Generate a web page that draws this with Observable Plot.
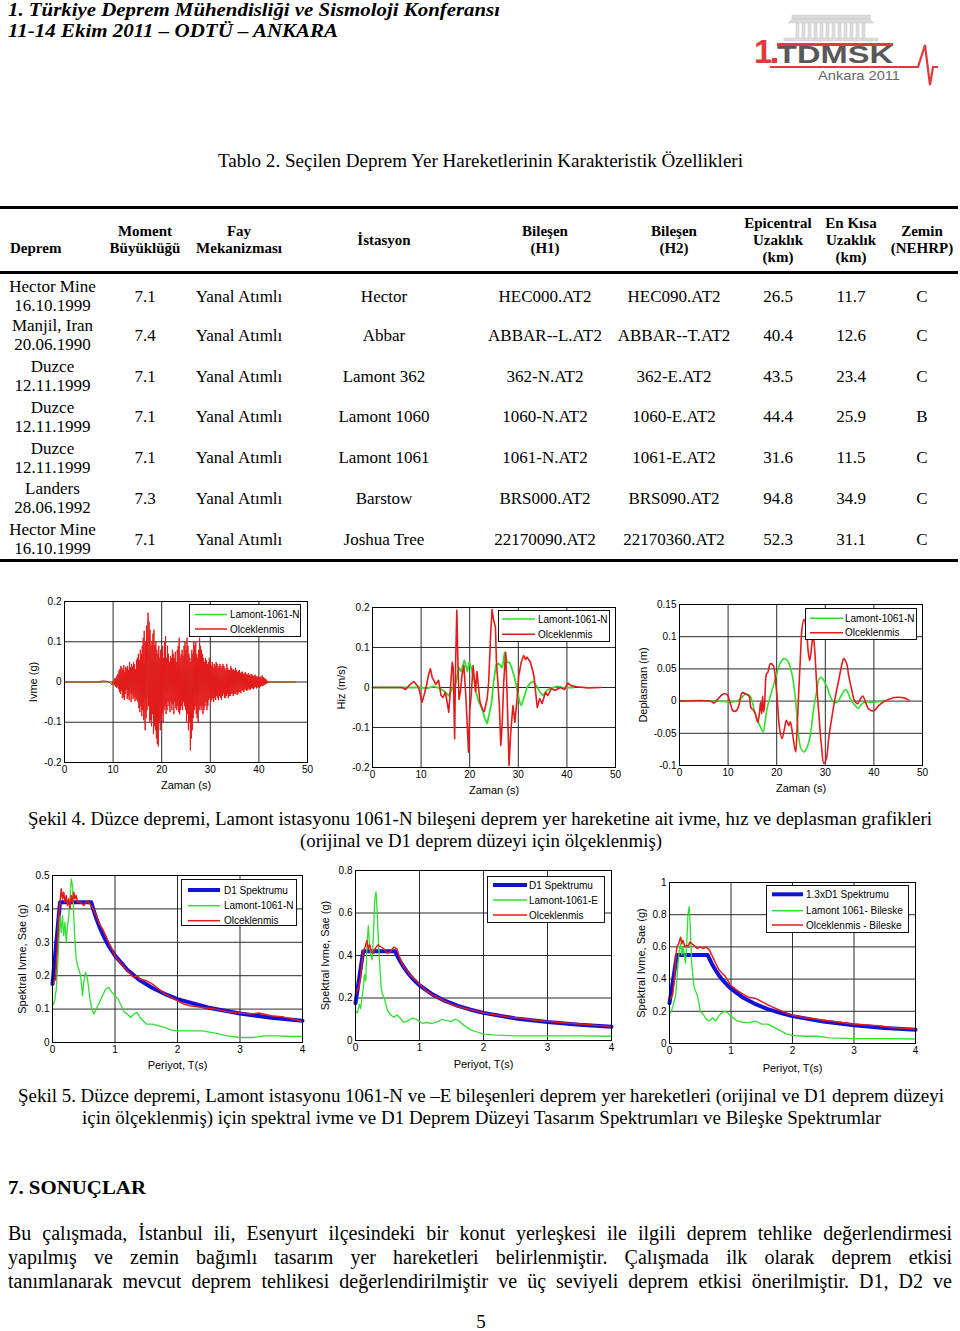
<!DOCTYPE html>
<html><head><meta charset="utf-8">
<script src="https://cdn.jsdelivr.net/npm/d3@7"></script>
<script src="https://cdn.jsdelivr.net/npm/@observablehq/plot@0.6"></script>
<style>
html,body{margin:0;padding:0;background:#fff;}
#page{position:relative;width:960px;height:1331px;overflow:hidden;background:#fff;}
.rule{position:absolute;background:#000;}
</style></head>
<body><div id="page"></div>
<script>
// ---------------- DATA ----------------
const headerLines = ["1. Türkiye Deprem Mühendisliği ve Sismoloji Konferansı", "11-14 Ekim 2011 – ODTÜ – ANKARA"];
const tableTitle = "Tablo 2. Seçilen Deprem Yer Hareketlerinin Karakteristik Özellikleri";
const tableHeads = [["Moment","Büyüklüğü"],["Fay","Mekanizması"],["İstasyon"],["Bileşen","(H1)"],["Bileşen","(H2)"],["Epicentral","Uzaklık","(km)"],["En Kısa","Uzaklık","(km)"],["Zemin","(NEHRP)"]];
const depremNames = ["Hector Mine","Manjil, Iran","Duzce","Duzce","Duzce","Landers","Hector Mine"];
const depremDates = ["16.10.1999","20.06.1990","12.11.1999","12.11.1999","12.11.1999","28.06.1992","16.10.1999"];
const magnitudes = ["7.1","7.4","7.1","7.1","7.1","7.3","7.1"];
const faults = ["Yanal Atımlı","Yanal Atımlı","Yanal Atımlı","Yanal Atımlı","Yanal Atımlı","Yanal Atımlı","Yanal Atımlı"];
const stations = ["Hector","Abbar","Lamont 362","Lamont 1060","Lamont 1061","Barstow","Joshua Tree"];
const compH1 = ["HEC000.AT2","ABBAR--L.AT2","362-N.AT2","1060-N.AT2","1061-N.AT2","BRS000.AT2","22170090.AT2"];
const compH2 = ["HEC090.AT2","ABBAR--T.AT2","362-E.AT2","1060-E.AT2","1061-E.AT2","BRS090.AT2","22170360.AT2"];
const epiDist = ["26.5","40.4","43.5","44.4","31.6","94.8","52.3"];
const minDist = ["11.7","12.6","23.4","25.9","11.5","34.9","31.1"];
const soilClass = ["C","C","C","B","C","C","C"];

const caption4 = ["Şekil 4. Düzce depremi, Lamont istasyonu 1061-N bileşeni deprem yer hareketine ait ivme, hız ve deplasman grafikleri","(orijinal ve D1 deprem düzeyi için ölçeklenmiş)"];
const caption5 = ["Şekil 5. Düzce depremi, Lamont istasyonu 1061-N ve –E bileşenleri deprem yer hareketleri (orijinal ve D1 deprem düzeyi","için ölçeklenmiş) için spektral ivme ve D1 Deprem Düzeyi Tasarım Spektrumları ve Bileşke Spektrumlar"];
const sectionTitle = "7. SONUÇLAR";
const paragraph = ["Bu çalışmada, İstanbul ili, Esenyurt ilçesindeki bir konut yerleşkesi ile ilgili deprem tehlike değerlendirmesi","yapılmış ve zemin bağımlı tasarım yer hareketleri belirlenmiştir. Çalışmada ilk olarak deprem etkisi","tanımlanarak mevcut deprem tehlikesi değerlendirilmiştir ve üç seviyeli deprem etkisi önerilmiştir. D1, D2 ve"];
const pageNumber = "5";

// time ticks / spectrum ticks
const timeTicks = [0,10,20,30,40,50];
const periodTicks = [0,1,2,3,4];
const accTicks = [-0.2,-0.1,0,0.1,0.2];
const velTicks = [-0.2,-0.1,0,0.1,0.2];
const dispTicks = [-0.1,-0.05,0,0.05,0.1,0.15];
const sp1Ticks = [0,0.1,0.2,0.3,0.4,0.5];
const sp2Ticks = [0,0.2,0.4,0.6,0.8];
const sp3Ticks = [0,0.2,0.4,0.6,0.8,1];

// Acceleration (g): red = scaled, sampled every 0.1 s from 10.0 s
const accStart = 10, accRedStep = 0.1, accGreenStep = 0.2;
const accRedLead = [[0,0],[7,0],[7.5,.002],[8,.003],[8.5,.002],[9,.001],[9.5,-.003],[9.8,-.008],[9.9,-.002]];
const accRedMain = [
.002,-.004,.006,-.008,.01,-.012,.009,-.014,.016,-.01,
.02,-.018,.028,-.025,.032,-.03,.04,-.022,.035,-.04,
.03,-.038,.042,-.045,.025,-.03,.038,-.02,.034,-.042,
.04,-.035,.03,-.045,.05,-.028,.036,-.05,.045,-.03,
.038,-.042,.05,-.036,.044,-.048,.032,-.04,.055,-.045,
.06,-.05,.07,-.065,.055,-.075,.08,-.06,.07,-.085,
.09,-.07,.11,-.095,.127,-.08,-.12,.1,-.09,.14,
-.07,.12,.172,-.06,.15,-.1,.13,-.095,.09,-.11,
.1,-.08,.12,-.13,.13,-.11,.09,-.12,.1,-.14,
.08,-.154,.07,-.16,.09,-.1,.06,-.12,.08,-.09,
.07,-.08,.09,-.1,.06,-.07,.1,-.06,.114,-.08,
.06,-.07,.09,-.05,.07,-.06,.05,-.075,.065,-.05,
.06,-.07,.08,-.055,.07,-.08,.06,-.05,.075,-.065,
.05,-.07,.08,-.06,.09,-.075,.11,-.08,.06,-.07,
.07,-.06,.08,-.07,.065,-.05,.09,-.06,.1,-.07,
.08,-.1,.11,-.08,.09,-.12,.07,-.1,.06,-.17,
.05,-.14,.08,-.12,.07,-.09,.1,-.07,.09,-.06,
.1,-.08,.07,-.09,.06,-.1,.08,-.07,.11,-.06,
.09,-.07,.08,-.06,.07,-.08,.06,-.07,.05,-.06,
.06,-.05,.055,-.07,.045,-.06,.05,-.045,.06,-.04,
.045,-.05,.04,-.045,.05,-.04,.035,-.05,.045,-.04,
.04,-.045,.05,-.035,.045,-.04,.035,-.045,.04,-.035,
.045,-.04,.035,-.045,.04,-.035,.045,-.03,.04,-.04,
.035,-.04,.03,-.035,.045,-.03,.035,-.04,.03,-.035,
.03,-.035,.04,-.03,.035,-.028,.03,-.035,.032,-.03,
.028,-.03,.035,-.025,.03,-.032,.025,-.03,.028,-.025,
.03,-.025,.022,-.028,.025,-.02,.026,-.022,.02,-.025,
.022,-.02,.025,-.018,.02,-.022,.018,-.02,.022,-.016,
.018,-.02,.015,-.018,.02,-.015,.018,-.016,.014,-.018,
.016,-.014,.018,-.012,.015,-.016,.012,-.014,.015,-.012,
.012,-.014,.01,-.012,.014,-.01,.012,.016,-.01,.012,
-.008,.01,-.007,.008,-.005,.006,-.004,.003,-.002,.001];
const accRedTail = [[42,0],[47.5,0]];
// green = original record, sampled every 0.2 s from 10.0 s
const accGreenLead = [[0,0],[8,.001],[9,0],[9.8,-.003]];
const accGreenMain = [
.004,-.006,.008,-.01,.012, -.015,.018,-.016,.02,-.018,
.02,-.022,.018,-.02,.022, -.02,.024,-.022,.02,-.025,
.022,-.024,.026,-.02,.025, -.028,.03,-.032,.035,-.03,
.04,-.045,.05,-.04,.045, -.04,.05,.07,.065,-.03,
.06,-.05,.055,-.06,.05, -.065,.04,-.05,.045,-.04,
.04,-.035,.04,-.03,.035, .025,-.03,.03,-.025,.03,
-.03,.03,-.025,.03,-.028, .03,-.03,.04,-.035,.03,
-.03,.035,-.03,.04,-.035, .04,-.045,.035,-.05,.04,
-.05,.035,-.04,-.03,.04, -.035,.04,-.035,.035,-.03,
.035,-.03,.03,-.025,.025, -.025,.022,-.025,.02,-.022,
.02,-.018,.02,-.017,.018, -.018,.017,-.016,.018,-.015,
.016,-.017,.015,-.016,.015, -.014,.015,-.013,.014,-.012,
.013,-.012,.012,-.011,.012, -.011,.01,-.011,.01,-.01,
.01,-.009,.01,-.008,.009, -.008,.008,-.007,.008,-.007,
.007,-.006,.007,-.006,.006, -.006,.005,-.006,.005,-.005,
.005,-.004,.005,-.004,.004, -.003,.003,-.002,.002,-.001];
const accGreenTail = [[42,0],[47.5,0]];

// Velocity (m/s) [t, v]
const velRed = [[0,0],[6.1,0],[6.8,-.005],[7.6,.006],[8.5,.015],[9.5,0],[10.2,-.037],[10.7,-.015],[11.1,.005],[11.5,.03],[11.9,.047],[12.3,.025],[12.6,.018],[13.0,.008],[13.3,.013],[13.6,.018],[14.1,-.02],[14.5,-.025],[15.0,-.012],[15.4,-.04],[15.7,-.062],[16.0,-.01],[16.4,.063],[16.6,.05],[16.9,-.128],[17.1,.06],[17.35,.193],[17.6,.05],[17.8,-.03],[18.1,-.01],[18.4,.03],[18.8,.055],[19.2,-.02],[19.5,-.095],[19.75,-.162],[20.0,-.06],[20.3,-.02],[20.7,.055],[21.2,-.01],[21.5,.04],[22.1,-.035],[22.6,-.055],[23.0,-.06],[23.6,-.028],[23.9,.013],[24.3,.13],[24.6,.195],[24.9,.17],[25.3,.15],[25.5,.063],[25.8,.013],[26.1,-.045],[26.4,-.145],[26.7,-.087],[27.0,.013],[27.4,.088],[27.7,-.02],[28.1,-.195],[28.4,-.12],[28.9,-.045],[29.3,-.087],[29.8,-.02],[30.1,.03],[30.6,.063],[31.1,.08],[31.5,.07],[31.8,.076],[32.5,.063],[33.2,.03],[33.5,-.003],[33.9,-.05],[34.4,-.028],[34.9,-.04],[35.6,-.012],[36.1,-.02],[36.8,-.003],[37.6,-.007],[38.7,0],[39.5,-.005],[40.2,.011],[41.0,.004],[42.1,.002],[44.2,-.001],[47.0,0]];
const velGreen = [[0,0],[9.9,0],[11.2,-.002],[12.6,.003],[14.0,-.003],[15.0,-.012],[15.7,-.02],[16.4,-.003],[17.1,.009],[17.8,.05],[18.2,.04],[18.9,.068],[19.5,.04],[19.9,.063],[20.3,.05],[20.9,.02],[21.3,-.012],[21.9,-.037],[22.6,-.053],[23.1,-.078],[23.6,-.09],[24.1,-.062],[24.5,-.037],[24.9,.013],[25.4,.055],[25.9,.06],[26.7,.05],[27.2,.088],[27.7,.063],[28.2,.063],[28.7,.047],[29.3,.022],[29.8,-.008],[30.3,-.037],[30.6,-.045],[31.3,-.02],[31.8,0],[32.5,.012],[33.1,.015],[33.7,.005],[34.5,-.012],[35.1,-.02],[35.8,-.008],[36.6,-.002],[38.0,.003],[39.4,-.001],[40.7,0],[41.4,0]];

// Displacement (m) [t, d]
const dispRed = [[0,0],[6.4,0],[7.1,-.003],[7.9,.003],[9.0,.011],[9.8,.01],[10.4,-.002],[11.0,-.015],[11.7,-.015],[12.2,-.007],[12.9,.013],[13.6,.011],[14.3,.008],[14.7,-.01],[15.3,-.015],[15.6,-.02],[16.1,-.033],[16.5,-.015],[16.7,-.002],[16.9,-.02],[17.1,.008],[17.3,-.017],[17.5,-.007],[17.9,.042],[18.2,.045],[18.7,.058],[19.3,.055],[19.8,.029],[20.2,-.007],[20.6,-.043],[21.1,-.058],[21.6,-.043],[22.0,-.03],[22.5,-.038],[22.8,-.032],[23.3,-.053],[23.9,-.079],[24.2,-.043],[24.5,.008],[24.9,.071],[25.2,.112],[25.6,.127],[26.1,.112],[26.5,.076],[26.8,.063],[27.2,.086],[27.5,.102],[27.8,.081],[28.2,.029],[28.7,-.023],[29.2,-.069],[29.7,-.097],[30.2,-.09],[30.7,-.058],[31.4,-.023],[32.1,.008],[32.8,.034],[33.5,.06],[33.8,.066],[34.4,.058],[34.8,.04],[35.4,.019],[36.0,.001],[36.6,-.004],[37.2,.003],[37.7,.008],[38.3,-.002],[38.9,-.012],[40.0,-.015],[41.0,-.007],[42.0,-.001],[43.1,.003],[44.8,.006],[46.2,.005],[47.2,.001]];
const dispGreen = [[0,0],[8.4,0],[9.8,-.001],[11.2,-.001],[12.5,.003],[13.6,.011],[14.5,.008],[15.0,-.002],[15.4,-.015],[16.0,-.028],[16.7,-.041],[17.2,-.048],[17.6,-.033],[18.0,-.012],[18.7,.008],[19.4,.026],[20.1,.045],[20.8,.06],[21.5,.066],[22.2,.063],[22.7,.055],[23.2,.04],[23.7,.014],[24.1,-.017],[24.5,-.053],[25.0,-.074],[25.6,-.079],[26.1,-.074],[26.6,-.064],[27.1,-.043],[27.6,-.012],[28.2,.014],[28.7,.034],[29.2,.037],[29.7,.032],[30.4,.021],[31.1,.006],[31.8,-.002],[32.4,-.002],[33.1,.006],[33.7,.014],[34.2,.018],[34.6,.014],[35.2,.003],[35.9,-.005],[36.8,-.011],[37.4,-.005],[38.3,-.001],[39.3,-.002],[40.7,-.001],[42.0,0]];

// Spectra [T (s), Sae (g)]
const d1Spectrum = [[0,.175],[.12,.42],[.62,.42],[.65,.40],[.7,.372],[.75,.347],[.8,.326],[.85,.306],[.9,.289],[.95,.274],[1,.26],[1.2,.217],[1.4,.186],[1.6,.163],[1.8,.145],[2,.13],[2.5,.104],[3,.087],[3.5,.074],[4,.065]];
const n1061Spectrum = [[0,.11],[.03,.12],[.06,.16],[.08,.22],[.1,.3],[.12,.38],[.14,.33],[.16,.38],[.18,.32],[.2,.36],[.22,.30],[.24,.35],[.26,.38],[.28,.43],[.3,.49],[.32,.47],[.34,.38],[.36,.3],[.38,.25],[.4,.23],[.42,.22],[.45,.2],[.48,.14],[.5,.18],[.53,.21],[.56,.19],[.6,.13],[.63,.1],[.66,.085],[.7,.1],[.75,.12],[.8,.14],[.85,.16],[.9,.165],[.95,.15],[1,.14],[1.05,.13],[1.1,.11],[1.15,.09],[1.2,.085],[1.25,.075],[1.3,.085],[1.35,.09],[1.4,.075],[1.5,.055],[1.6,.055],[1.7,.05],[1.8,.045],[1.9,.037],[2,.035],[2.2,.035],[2.4,.035],[2.6,.028],[2.8,.02],[3,.015],[3.2,.015],[3.4,.02],[3.6,.02],[3.8,.018],[4,.018]];
const n1061Scaled = [[0,.175],[.05,.19],[.08,.3],[.1,.38],[.12,.42],[.14,.46],[.16,.43],[.18,.45],[.2,.42],[.22,.44],[.24,.41],[.26,.43],[.28,.40],[.3,.44],[.32,.42],[.34,.45],[.36,.43],[.38,.44],[.4,.42],[.45,.42],[.5,.41],[.55,.425],[.6,.415],[.65,.40],[.7,.38],[.75,.355],[.8,.34],[.85,.32],[.9,.30],[.95,.28],[1,.26],[1.1,.235],[1.2,.215],[1.3,.195],[1.35,.2],[1.4,.19],[1.5,.185],[1.6,.175],[1.7,.16],[1.8,.145],[1.9,.135],[2,.125],[2.1,.115],[2.2,.11],[2.4,.105],[2.6,.1],[2.8,.092],[3,.088],[3.2,.085],[3.3,.088],[3.5,.08],[3.7,.076],[3.9,.068],[4,.062]];
const e1061Spectrum = [[0,.14],[.03,.13],[.06,.17],[.08,.15],[.1,.2],[.12,.24],[.14,.31],[.16,.28],[.18,.45],[.2,.54],[.22,.45],[.24,.4],[.26,.38],[.28,.5],[.3,.66],[.32,.7],[.34,.6],[.36,.45],[.38,.35],[.4,.25],[.42,.22],[.45,.2],[.5,.14],[.55,.12],[.6,.11],[.65,.12],[.7,.105],[.75,.085],[.8,.09],[.85,.1],[.9,.105],[.95,.1],[1,.09],[1.05,.08],[1.1,.085],[1.2,.08],[1.3,.09],[1.35,.1],[1.4,.095],[1.5,.09],[1.55,.1],[1.6,.095],[1.7,.07],[1.8,.05],[1.9,.04],[2,.03],[2.2,.025],[2.5,.022],[3,.022],[3.5,.022],[4,.02]];
const e1061Scaled = [[0,.22],[.05,.25],[.08,.3],[.1,.36],[.12,.42],[.15,.44],[.18,.47],[.2,.43],[.22,.45],[.25,.42],[.28,.41],[.3,.43],[.35,.45],[.4,.44],[.45,.43],[.5,.41],[.55,.42],[.6,.44],[.65,.43],[.7,.38],[.75,.35],[.8,.33],[.85,.31],[.9,.295],[.95,.28],[1,.265],[1.1,.235],[1.2,.215],[1.3,.2],[1.4,.185],[1.5,.17],[1.6,.16],[1.8,.145],[2,.13],[2.2,.12],[2.4,.11],[2.6,.105],[2.8,.095],[3,.09],[3.2,.085],[3.4,.08],[3.6,.075],[3.8,.07],[4,.065]];
const d1x13Spectrum = [[0,.25],[.12,.55],[.62,.55],[.65,.525],[.7,.487],[.75,.455],[.8,.426],[.85,.401],[.9,.379],[.95,.359],[1,.341],[1.2,.284],[1.4,.244],[1.6,.213],[1.8,.19],[2,.17],[2.5,.136],[3,.114],[3.5,.097],[4,.085]];
const srssSpectrum = [[0,.18],[.03,.2],[.06,.24],[.1,.3],[.12,.4],[.14,.5],[.16,.58],[.18,.62],[.2,.55],[.22,.6],[.24,.55],[.26,.5],[.28,.62],[.3,.8],[.32,.85],[.34,.7],[.36,.5],[.38,.42],[.4,.35],[.42,.33],[.45,.3],[.48,.25],[.5,.2],[.55,.18],[.6,.15],[.65,.14],[.7,.16],[.75,.14],[.8,.17],[.85,.19],[.9,.2],[.95,.19],[1,.17],[1.1,.14],[1.2,.13],[1.3,.13],[1.4,.14],[1.5,.12],[1.6,.12],[1.7,.1],[1.8,.08],[1.9,.06],[2,.05],[2.2,.045],[2.4,.045],[2.6,.035],[3,.03],[3.5,.03],[4,.028]];
const srssScaled = [[0,.27],[.05,.3],[.08,.4],[.1,.52],[.12,.6],[.15,.62],[.18,.66],[.2,.62],[.22,.64],[.25,.6],[.28,.61],[.3,.6],[.33,.63],[.36,.62],[.4,.61],[.45,.59],[.5,.6],[.55,.59],[.6,.6],[.65,.58],[.7,.54],[.75,.5],[.8,.46],[.85,.44],[.9,.42],[.95,.39],[1,.36],[1.1,.33],[1.2,.305],[1.3,.285],[1.4,.28],[1.5,.26],[1.6,.24],[1.8,.205],[2,.175],[2.2,.16],[2.4,.15],[2.6,.14],[2.8,.13],[3,.12],[3.2,.115],[3.4,.11],[3.6,.1],[3.8,.095],[4,.09]];

const legend4 = ["Lamont-1061-N","Olceklenmis"];
const legendN = ["D1 Spektrumu","Lamont-1061-N","Olceklenmis"];
const legendE = ["D1 Spektrumu","Lamont-1061-E","Olceklenmis"];
const legendB = ["1.3xD1 Spektrumu","Lamont 1061- Bileske","Olceklenmis - Bileske"];

// ---------------- RENDER ----------------
const SERIF = '"Liberation Serif","Times New Roman",serif';
const SANS = '"Liberation Sans",Arial,sans-serif';
const RED = "#e41b1b", GREEN = "#2fe02f", BLUE = "#1212d6";
const page = document.getElementById("page");

function put(s, o) {
  const el = document.createElement("div");
  el.textContent = s;
  const font = o.font || SERIF;
  Object.assign(el.style, {position:"absolute", whiteSpace:"pre", lineHeight:"1", fontFamily:font,
    fontSize:o.size+"px", fontWeight:o.bold?"bold":"normal", fontStyle:o.italic?"italic":"normal",
    color:o.color||"#000", left:"0px", top:"0px"});
  page.appendChild(el);
  let w = el.getBoundingClientRect().width;
  if (o.justify) {
    const n = (s.match(/ /g) || []).length;
    el.style.wordSpacing = ((o.w - w) / n) + "px";
    w = o.w;
  } else if (o.w) {
    el.style.transformOrigin = "0 0";
    el.style.transform = `scaleX(${o.w / w})`;
    w = o.w;
  }
  const asc = font === SANS ? 0.847 : 0.8375;
  const left = o.anchor === "middle" ? o.x - w / 2 : o.anchor === "end" ? o.x - w : o.x;
  el.style.left = left + "px";
  el.style.top = (o.y - asc * o.size) + "px";
}
function rule(x, y, w, h) {
  const d = document.createElement("div");
  d.className = "rule";
  Object.assign(d.style, {left:x+"px", top:y+"px", width:w+"px", height:h+"px"});
  page.appendChild(d);
}

// header
put(headerLines[0], {x:8, y:16, size:18, bold:true, italic:true, w:492});
put(headerLines[1], {x:8, y:37, size:18, bold:true, italic:true, w:330});

// logo
const logo = document.createElement("div");
logo.style.cssText = "position:absolute;left:740px;top:5px;width:210px;height:90px;";
logo.innerHTML = `<svg width="210" height="90" font-family='${SANS}'>
<g fill="#dcdcdc" stroke="#cfcfcf" stroke-width="0.6">
<rect x="52" y="10" width="78" height="4"/>
<polygon points="48,18 134,18 130,14 52,14"/>
${[56,62,68,74,80,86,92,98,104,110,116,122].map(x=>`<rect x="${x}" y="18" width="3" height="16"/>`).join("")}
<rect x="44" y="33" width="94" height="3"/>
</g>
<text x="14" y="58" font-size="33" font-weight="bold" fill="#e03a3a">1</text>
<rect x="32" y="53" width="5" height="5" fill="#e03a3a"/>
<rect x="37" y="38" width="116" height="3" fill="#e03a3a"/>
<text x="37" y="58" font-size="24" font-weight="bold" fill="#585858" textLength="116" lengthAdjust="spacingAndGlyphs">TDMSK</text>
<polyline points="30,62 178,62 185,40 190,80 193,62 198,62" fill="none" stroke="#e03a3a" stroke-width="2.2"/>
<text x="78" y="75" font-size="13" fill="#666" textLength="82" lengthAdjust="spacingAndGlyphs">Ankara 2011</text>
</svg>`;
page.appendChild(logo);

// table
put(tableTitle, {x:480.5, y:167, size:18, anchor:"middle", w:525});
rule(0, 206, 958, 3);
rule(0, 271, 958, 3);
rule(0, 559, 958, 3);
put("Deprem", {x:10, y:254, size:15, bold:true});
const colX = [145, 239, 384, 545, 674, 778, 851, 922];
tableHeads.forEach((lines, i) => {
  const base = lines.length === 1 ? [246] : lines.length === 2 ? [237, 254] : [229, 246, 263];
  lines.forEach((l, j) => put(l, {x:colX[i], y:base[j], size:15, bold:true, anchor:"middle"}));
});
const rowC = [296, 335, 376, 416.5, 457.5, 498, 539];
const cols = [magnitudes, faults, stations, compH1, compH2, epiDist, minDist, soilClass];
rowC.forEach((c, r) => {
  put(depremNames[r], {x:52.5, y:c - 3.5, size:17, anchor:"middle"});
  put(depremDates[r], {x:52.5, y:c + 15.5, size:17, anchor:"middle"});
  cols.forEach((arr, i) => put(arr[r], {x:colX[i], y:c + 6, size:17, anchor:"middle"}));
});

// charts
function chart(cfg) {
  const fmt = d => String(d);
  const svg = Plot.plot({
    width: cfg.W, height: cfg.H,
    marginLeft: cfg.ml, marginTop: cfg.mt, marginRight: cfg.mr, marginBottom: cfg.mb,
    x: {domain: cfg.xd, ticks: cfg.xt, tickFormat: fmt, tickSize: 0, tickPadding: 3, label: null},
    y: {domain: cfg.yd, ticks: cfg.yt, tickFormat: fmt, tickSize: 0, tickPadding: 3, label: null},
    style: {fontFamily: SANS, fontSize: "10px", background: "transparent", color: "#000", overflow: "visible"},
    marks: [
      Plot.ruleX(cfg.xt, {stroke: "#2a2a2a", strokeWidth: 1}),
      Plot.ruleY(cfg.yt, {stroke: "#2a2a2a", strokeWidth: 1}),
      ...cfg.series.map(s => Plot.line(s.data, {x: d => d[0], y: d => d[1], stroke: s.color, strokeWidth: s.width, strokeLinejoin: "round", curve: s.curve || "linear"})),
      Plot.frame({stroke: "#000", strokeWidth: 1}),
      Plot.text([cfg.xlabel], {frameAnchor: "bottom", dy: cfg.xdy, text: d => d, fontSize: 11, textAnchor: "middle", lineAnchor: "middle"}),
      Plot.text([cfg.ylabel], {frameAnchor: "left", dx: cfg.ydx, rotate: -90, text: d => d, fontSize: 11, textAnchor: "middle", lineAnchor: "middle"})
    ]
  });
  svg.style.position = "absolute";
  svg.style.left = cfg.left + "px";
  svg.style.top = cfg.top + "px";
  page.appendChild(svg);
}
function legend(o) {
  const svg = d3.create("svg").attr("width", o.w + 2).attr("height", o.h + 2)
    .style("position", "absolute").style("left", (o.x - 1) + "px").style("top", (o.y - 1) + "px")
    .attr("font-family", SANS).attr("font-size", 10);
  svg.append("rect").attr("x", 1.5).attr("y", 1.5).attr("width", o.w - 1).attr("height", o.h - 1)
    .attr("fill", "#fff").attr("stroke", "#111").attr("stroke-width", 1);
  o.labels.forEach((lab, i) => {
    const cy = o.rows[i] + 1;
    svg.append("line").attr("x1", o.s1 + 1).attr("x2", o.s2 + 1).attr("y1", cy).attr("y2", cy)
      .attr("stroke", o.colors[i]).attr("stroke-width", o.widths[i]);
    svg.append("text").attr("x", o.tx + 1).attr("y", cy).attr("dy", "0.35em").text(lab);
  });
  page.appendChild(svg.node());
}

const accRed = [...accRedLead, ...accRedMain.map((v, i) => [accStart + i * accRedStep, v]), ...accRedTail];
const accGreen = [...accGreenLead, ...accGreenMain.map((v, i) => [accStart + i * accGreenStep, v]), ...accGreenTail];

chart({left:0, top:590, W:330, H:210, ml:64, mt:11, mr:23, mb:38, xd:[0,50], xt:timeTicks, yd:[-0.2,0.2], yt:accTicks,
  xlabel:"Zaman (s)", xdy:23, ylabel:"Ivme (g)", ydx:-31,
  series:[{data:accGreen, color:GREEN, width:1}, {data:accRed, color:RED, width:1}]});
legend({x:189, y:604, w:112, h:33, rows:[10.5, 25], s1:6, s2:38, tx:41, labels:legend4, colors:[GREEN, RED], widths:[1.5, 1.5]});

chart({left:320, top:595, W:320, H:210, ml:52, mt:12, mr:25, mb:38, xd:[0,50], xt:timeTicks, yd:[-0.2,0.2], yt:velTicks,
  xlabel:"Zaman (s)", xdy:23, ylabel:"Hiz (m/s)", ydx:-31,
  series:[{data:velGreen, color:GREEN, width:1.8}, {data:velRed, color:RED, width:1.6}]});
legend({x:498, y:610, w:112, h:32, rows:[9, 24.3], s1:4, s2:37, tx:40, labels:legend4, colors:[GREEN, RED], widths:[1.5, 1.5]});

chart({left:630, top:595, W:330, H:210, ml:49, mt:9, mr:38, mb:40, xd:[0,50], xt:timeTicks, yd:[-0.1,0.15], yt:dispTicks,
  xlabel:"Zaman (s)", xdy:23, ylabel:"Deplasman (m)", ydx:-36,
  series:[{data:dispGreen, color:GREEN, width:1.6, curve:"catmull-rom"}, {data:dispRed, color:RED, width:1.6, curve:"catmull-rom"}]});
legend({x:805, y:608, w:112, h:32, rows:[10.3, 24.7], s1:5, s2:38, tx:40, labels:legend4, colors:[GREEN, RED], widths:[1.5, 1.5]});

chart({left:0, top:860, W:320, H:220, ml:52, mt:15, mr:18, mb:38, xd:[0,4], xt:periodTicks, yd:[0,0.5], yt:sp1Ticks,
  xlabel:"Periyot, T(s)", xdy:23, ylabel:"Spektral Ivme, Sae (g)", ydx:-30,
  series:[{data:d1Spectrum, color:BLUE, width:4}, {data:n1061Spectrum, color:GREEN, width:1.3}, {data:n1061Scaled, color:RED, width:1.5}]});
legend({x:181, y:879, w:116, h:47, rows:[11, 26.7, 41.7], s1:7, s2:39, tx:43, labels:legendN, colors:[BLUE, GREEN, RED], widths:[4, 1.5, 1.5]});

chart({left:310, top:860, W:320, H:220, ml:45, mt:10, mr:19, mb:40, xd:[0,4], xt:periodTicks, yd:[0,0.8], yt:sp2Ticks,
  xlabel:"Periyot, T(s)", xdy:24, ylabel:"Spektral Ivme, Sae (g)", ydx:-30,
  series:[{data:d1Spectrum, color:BLUE, width:4}, {data:e1061Spectrum, color:GREEN, width:1.3}, {data:e1061Scaled, color:RED, width:1.5}]});
legend({x:487, y:876, w:118, h:47, rows:[9, 24, 39], s1:6, s2:40, tx:42, labels:legendE, colors:[BLUE, GREEN, RED], widths:[4, 1.5, 1.5]});

chart({left:620, top:860, W:340, H:220, ml:49, mt:22, mr:45, mb:37, xd:[0,4], xt:periodTicks, yd:[0,1], yt:sp3Ticks,
  xlabel:"Periyot, T(s)", xdy:25, ylabel:"Spektral Ivme, Sae (g)", ydx:-28,
  series:[{data:d1x13Spectrum, color:BLUE, width:4}, {data:srssSpectrum, color:GREEN, width:1.3}, {data:srssScaled, color:RED, width:1.5}]});
legend({x:766, y:885, w:143, h:48, rows:[9.3, 25.7, 40], s1:6, s2:37, tx:40, labels:legendB, colors:[BLUE, GREEN, RED], widths:[4, 1.5, 1.5]});

// captions & text
put(caption4[0], {x:28, y:825, size:18, w:904});
put(caption4[1], {x:481, y:847, size:18, anchor:"middle", w:362});
put(caption5[0], {x:18, y:1102, size:18, w:926});
put(caption5[1], {x:82, y:1124, size:18, w:799});
put(sectionTitle, {x:8, y:1194, size:19, bold:true, w:138});
paragraph.forEach((l, i) => put(l, {x:8, y:1240 + 24 * i, size:20, justify:true, w:944}));
put(pageNumber, {x:481, y:1328, size:19, anchor:"middle"});
</script></body></html>
